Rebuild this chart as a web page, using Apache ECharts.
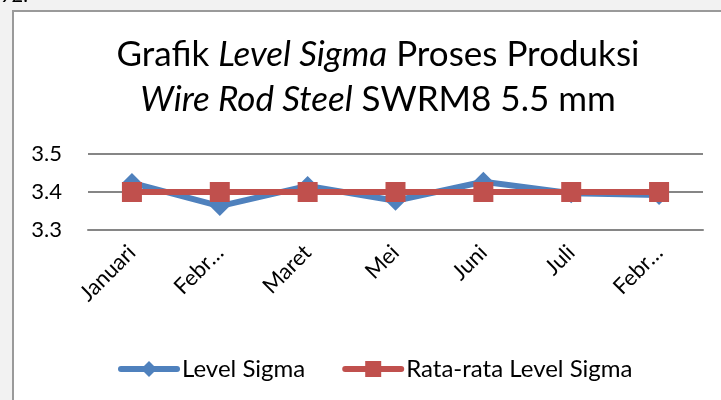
<!DOCTYPE html>
<html>
<head>
<meta charset="utf-8">
<script src="https://cdn.jsdelivr.net/npm/echarts@6/dist/echarts.min.js"></script>
<style>
  html, body { margin: 0; padding: 0; background: #f2f2f2; }
  #chart { width: 721px; height: 400px; }
</style>
</head>
<body>
<div id="chart"></div>
<script>
// data
const months = ['Januari', 'Febr…', 'Maret', 'Mei', 'Juni', 'Juli', 'Febr…'];
const levelSigma = [3.424, 3.363, 3.416, 3.377, 3.427, 3.397, 3.392];
const rataRata = [3.40, 3.40, 3.40, 3.40, 3.40, 3.40, 3.40];
const yTicks = [3.3, 3.4, 3.5];

const font = 'Lato, "Open Sans", sans-serif';

const chart = echarts.init(document.getElementById('chart'));

chart.setOption({
    backgroundColor: '#f2f2f2',
    animation: false,
    graphic: [
        // white chart area with its grey frame
        {
            type: 'rect', left: 12, top: 10, z: -10,
            shape: { width: 720, height: 400 },
            style: { fill: '#ffffff', stroke: '#9a9a9a', lineWidth: 2 }
        },
        {
            type: 'text', left: 0, top: -14, z: -5,
            style: { text: '92.', font: '20px ' + font, fill: '#000' }
        }
    ],
    title: {
        left: 373,
        top: 27,
        textAlign: 'center',
        text: '{n|Grafik }{i|Level Sigma}{n| Proses Produksi}\n{i|Wire Rod Steel}{n| SWRM8 5.5 mm}',
        textStyle: {
            fontFamily: font,
            fontSize: 35,
            lineHeight: 45,
            fontWeight: 'normal',
            color: '#000',
            rich: {
                n: { fontFamily: font, fontSize: 35, lineHeight: 45, color: '#000' },
                i: { fontFamily: font, fontSize: 35, lineHeight: 45, color: '#000', fontStyle: 'italic' }
            }
        }
    },
    legend: {
        left: 113,
        top: 352,
        itemWidth: 56,
        itemHeight: 20,
        itemGap: 37,
        lineStyle: { width: 6, cap: 'round' },
        textStyle: { fontFamily: font, fontSize: 24, color: '#000' },
        data: ['Level Sigma', 'Rata-rata Level Sigma']
    },
    grid: { left: 88, right: 18, top: 154, bottom: 170 },
    xAxis: {
        type: 'category',
        data: months,
        boundaryGap: true,
        axisLine: { show: true, lineStyle: { color: '#868686', width: 2 } },
        axisTick: { show: false },
        axisLabel: {
            rotate: 45,
            margin: 19,
            interval: 0,
            fontFamily: font,
            fontSize: 22,
            color: '#000'
        }
    },
    yAxis: {
        type: 'value',
        min: yTicks[0],
        max: yTicks[yTicks.length - 1],
        interval: 0.1,
        axisLine: { show: false },
        axisTick: { show: false },
        splitLine: { lineStyle: { color: '#868686', width: 2 } },
        axisLabel: {
            margin: 26,
            fontFamily: font,
            fontSize: 22,
            color: '#000',
            formatter: v => v.toFixed(1)
        }
    },
    series: [
        {
            name: 'Level Sigma',
            type: 'line',
            data: levelSigma,
            symbol: 'diamond',
            symbolSize: 20,
            itemStyle: { color: '#4f81bd' },
            lineStyle: { color: '#4f81bd', width: 6 }
        },
        {
            name: 'Rata-rata Level Sigma',
            type: 'line',
            data: rataRata,
            symbol: 'rect',
            symbolSize: 20,
            itemStyle: { color: '#c0504d' },
            lineStyle: { color: '#c0504d', width: 6 }
        }
    ]
});
</script>
</body>
</html>
